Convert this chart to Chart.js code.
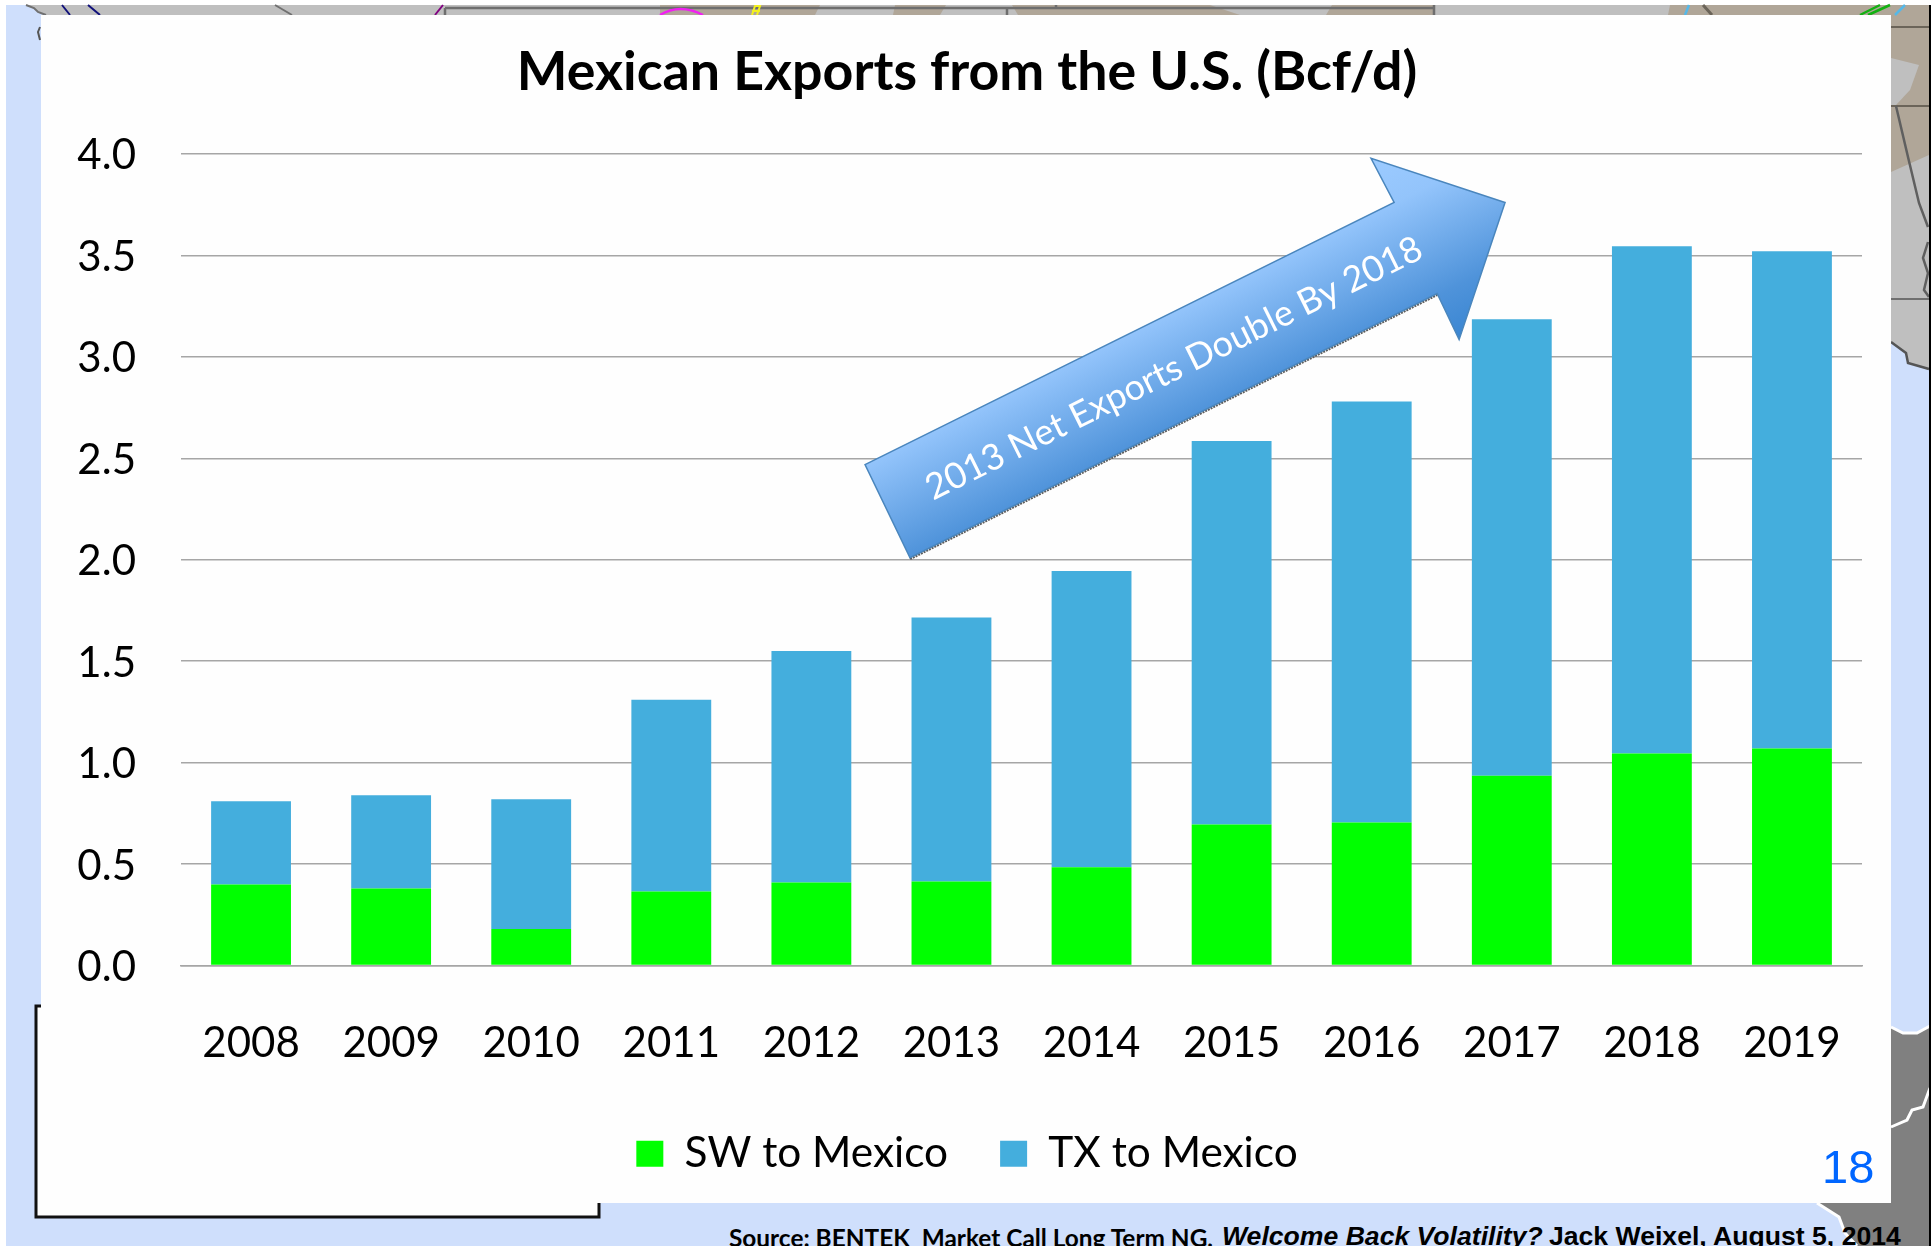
<!DOCTYPE html>
<html>
<head>
<meta charset="utf-8">
<title>Mexican Exports from the U.S.</title>
<script src="https://cdn.jsdelivr.net/npm/chart.js@4"></script>
<style>
  html, body { margin: 0; padding: 0; background: #fff; overflow: hidden; }
  #stage { position: relative; width: 1931px; height: 1246px; overflow: hidden; }
  #stage svg { position: absolute; left: 0; top: 0; }
  #chart-box { position: absolute; left: 72px; top: 15px; width: 1819px; height: 1188px; }
  .note { position: absolute; white-space: pre; line-height: 1; color: #000; }
</style>
</head>
<body>
<div id="stage">
  <!-- slide backdrop: map scraps around the white panel -->
  <svg width="1931" height="1246">
    <rect x="6" y="5" width="1925" height="1241" fill="#cfdffc"/>
    <polygon points="26,5 1929,5 1929,370 1908,363 1906,353 1893,343 1880,343 1880,30 42,30 46,15" fill="#bfbfbf"/>
    <polygon points="660,5 820,5 815,15 660,15" fill="#b0a698"/>
    <polygon points="895,5 946,5 940,15 893,15" fill="#b0a698"/>
    <polygon points="1012,5 1210,5 1240,15 1018,15" fill="#b0a698"/>
    <polygon points="1332,5 1434,5 1434,15 1326,15" fill="#b0a698"/>
    <polygon points="1670,5 1929,5 1929,155 1891,172 1891,15 1668,15" fill="#b0a698"/>
    <polygon points="1891,58 1919,65 1910,90 1896,105 1891,106" fill="#bfbfbf"/>
    <path d="M1891,27H1929M1891,106H1929" stroke="#6b6459" stroke-width="2" fill="none"/>
    <path d="M1891,299H1929" stroke="#6f6f6f" stroke-width="2" fill="none"/>
    <path d="M1896,106L1908,157L1919,203L1928,227M1928,242L1923,258L1928,273L1924,290L1929,297" stroke="#5f5f5f" stroke-width="2.5" fill="none"/>
    <path d="M1891,342L1906,353L1908,363L1929,369" stroke="#555" stroke-width="2.5" fill="none"/>
    <path d="M445,8H1434M445,8V15M1434,5V15M1007,8V15M1056,5V8" stroke="#6e6e6e" stroke-width="2.5" fill="none"/>
    <path d="M435,15L443,5" stroke="#800080" stroke-width="2" fill="none"/>
    <path d="M660,15Q680,3 703,15" stroke="#f020f0" stroke-width="2.5" fill="none"/>
    <path d="M752,15L755,6H760L757,15M752,11H760" stroke="#f2f020" stroke-width="2" fill="none"/>
    <path d="M62,5L70,15M88,5L100,15" stroke="#10107a" stroke-width="2" fill="none"/>
    <path d="M275,5L292,15M26,5L34,8L38,12L46,15" stroke="#707070" stroke-width="2" fill="none"/>
    <path d="M1685,15L1689,5M1895,15L1905,5" stroke="#55b8e8" stroke-width="2.5" fill="none"/>
    <path d="M1860,15L1880,5M1868,15L1890,5" stroke="#12b012" stroke-width="2.5" fill="none"/>
    <path d="M1703,5L1712,15" stroke="#6b6459" stroke-width="3" fill="none"/>
    <path d="M40,27L38,32L40,40" stroke="#555" stroke-width="2" fill="none"/>
    <!-- dark land at the lower right with its white shoreline -->
    <polygon points="1891,1027 1903,1033 1917,1033 1929,1026 1929,1246 1857,1246 1845,1233 1839,1217 1817,1203 1891,1203" fill="#808080"/>
    <path d="M1891,1027L1903,1033L1917,1033L1930,1026" stroke="#fff" stroke-width="3" fill="none"/>
    <path d="M1891,1127L1907,1120L1912,1110L1923,1107L1930,1088" stroke="#fff" stroke-width="3" fill="none"/>
    <path d="M1817,1203L1839,1217L1845,1233L1857,1246" stroke="#fff" stroke-width="3" fill="none"/>
    <rect x="1929" y="5" width="2" height="1241" fill="#000"/>
    <!-- white panel and the boxed corner under it -->
    <rect x="36" y="1006" width="564" height="211" fill="#fefefe"/>
    <path d="M41,1006H36V1217H599V1203" stroke="#111" stroke-width="3" fill="none"/>
    <rect x="41" y="15" width="1850" height="1188" fill="#fefefe"/>
  </svg>
  <div id="chart-box"><canvas id="exports-chart"></canvas></div>
  <div class="note" style="left:1822px;top:1139px;font:47px 'Liberation Sans';color:#0066ff;">18</div>
  <div class="note" style="left:729px;top:1223px;font:bold 24.4px Lato;">Source: BENTEK  Market Call Long Term NG,</div>
  <div class="note" style="left:1222px;top:1221px;font:italic bold 26.6px 'Liberation Sans';">Welcome Back Volatility?</div>
  <div class="note" style="left:1549px;top:1221px;font:bold 26.6px 'Liberation Sans';">Jack Weixel, August 5, 2014</div>
</div>

<script>
//////////////// data
const years = ['2008', '2009', '2010', '2011', '2012', '2013', '2014', '2015', '2016', '2017', '2018', '2019'];
const swToMexico = [0.40, 0.38, 0.18, 0.365, 0.41, 0.415, 0.485, 0.695, 0.705, 0.935, 1.045, 1.07];
const txToMexico = [0.41, 0.46, 0.64, 0.945, 1.14, 1.30, 1.46, 1.89, 2.075, 2.25, 2.50, 2.45];

const fontName = 'Lato, Carlito, sans-serif';
const gridColor = '#a6a6a6';

// arrow outline as [category index, value], so it follows the scales
const arrowOutline = [
  [4.383, 2.469],
  [8.160, 3.761],
  [7.995, 3.978],
  [8.952, 3.761],
  [8.624, 3.085],
  [8.467, 3.312],
  [4.704, 2.010],
];
const arrowText = '2013 Net Exports Double By 2018';

//////////////// arrow callout
const arrowPlugin = {
  id: 'arrowCallout',
  afterDatasetsDraw(chart) {
    const { ctx, scales } = chart;
    const pts = arrowOutline.map(p => [scales.x.getPixelForValue(p[0]), scales.y.getPixelForValue(p[1])]);

    // shaft direction and its normal, the shading runs across the shaft
    const dx = pts[1][0] - pts[0][0];
    const dy = pts[1][1] - pts[0][1];
    const len = Math.hypot(dx, dy);
    const nx = -dy / len;
    const ny = dx / len;
    const span = (pts[4][0] - pts[2][0]) * nx + (pts[4][1] - pts[2][1]) * ny;
    const grad = ctx.createLinearGradient(pts[2][0], pts[2][1], pts[2][0] + nx * span, pts[2][1] + ny * span);
    grad.addColorStop(0, '#9ccbff');
    grad.addColorStop(0.25, '#93c4fb');
    grad.addColorStop(0.757, '#4f93da');
    grad.addColorStop(1, '#3a86d2');

    ctx.save();

    // rough grey shadow under the lower edge
    ctx.beginPath();
    ctx.moveTo(pts[6][0], pts[6][1] + 1);
    ctx.lineTo(pts[5][0], pts[5][1] + 1);
    ctx.strokeStyle = '#5e5e5e';
    ctx.lineWidth = 3;
    ctx.setLineDash([2, 1]);
    ctx.stroke();
    ctx.setLineDash([]);

    ctx.beginPath();
    pts.forEach((p, i) => (i ? ctx.lineTo(p[0], p[1]) : ctx.moveTo(p[0], p[1])));
    ctx.closePath();
    ctx.fillStyle = grad;
    ctx.fill();
    ctx.strokeStyle = '#4a86bd';
    ctx.lineWidth = 1.5;
    ctx.stroke();

    // label along the shaft
    const midX = (pts[0][0] + pts[6][0] + pts[1][0] + pts[5][0]) / 4;
    const midY = (pts[0][1] + pts[6][1] + pts[1][1] + pts[5][1]) / 4;
    ctx.translate(midX, midY);
    ctx.rotate(Math.atan2(dy, dx));
    ctx.fillStyle = '#fff';
    ctx.font = '36px ' + fontName;
    ctx.textAlign = 'center';
    ctx.textBaseline = 'middle';
    ctx.fillText(arrowText, 25, 0);
    ctx.restore();
  },
};

//////////////// chart
new Chart(document.getElementById('exports-chart'), {
  type: 'bar',
  plugins: [arrowPlugin],
  data: {
    labels: years,
    datasets: [
      { label: 'SW to Mexico', data: swToMexico, backgroundColor: '#00ff00' },
      { label: 'TX to Mexico', data: txToMexico, backgroundColor: '#44aedd' },
    ],
  },
  options: {
    animation: false,
    responsive: true,
    maintainAspectRatio: false,
    layout: { padding: { top: 25, right: 29, left: 0, bottom: 18 } },
    datasets: { bar: { categoryPercentage: 1, barPercentage: 0.57 } },
    plugins: {
      tooltip: { enabled: false },
      title: {
        display: true,
        text: 'Mexican Exports from the U.S. (Bcf/d)',
        color: '#000',
        font: { family: fontName, size: 53.7, weight: 'bold' },
        padding: { top: 0, bottom: 49.5 },
      },
      legend: {
        position: 'bottom',
        labels: {
          color: '#000',
          font: { family: fontName, size: 42.4 },
          boxWidth: 27,
          boxHeight: 26,
          padding: 52,
        },
      },
    },
    scales: {
      x: {
        stacked: true,
        grid: { display: false },
        border: { color: gridColor, width: 1.5 },
        ticks: { color: '#000', font: { family: fontName, size: 42 }, padding: 45, maxRotation: 0 },
        afterFit(scale) { scale.height = 115; },
      },
      y: {
        stacked: true,
        min: 0,
        max: 4,
        grid: { color: gridColor, lineWidth: 1.5, drawTicks: false },
        border: { display: false },
        ticks: {
          stepSize: 0.5,
          color: '#000',
          font: { family: fontName, size: 42 },
          padding: 45,
          labelOffset: 2,
          callback: value => value.toFixed(1),
        },
        afterFit(scale) { scale.width = 109; },
      },
    },
  },
});
</script>
</body>
</html>
